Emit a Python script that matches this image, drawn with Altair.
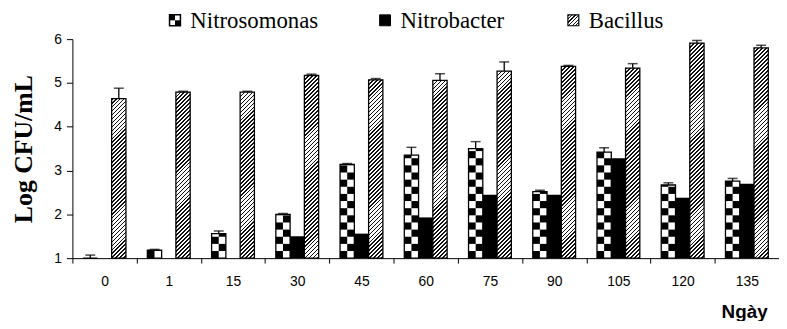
import altair as alt
import pandas as pd

# ---- data ----
days = ["0", "1", "15", "30", "45", "60", "75", "90", "105", "120", "135"]
series_names = ["Nitrosomonas", "Nitrobacter", "Bacillus"]
nitrosomonas = [1.00, 1.18, 1.56, 2.00, 3.14, 3.35, 3.50, 2.52, 3.42, 2.67, 2.76]
nitrosomonas_err = [0.07, 0.02, 0.06, 0.02, 0.02, 0.18, 0.16, 0.03, 0.10, 0.05, 0.06]
nitrobacter = [1.00, 1.00, 1.00, 1.50, 1.56, 1.93, 2.45, 2.45, 3.28, 2.38, 2.70]
bacillus = [4.64, 4.79, 4.79, 5.17, 5.07, 5.06, 5.27, 5.38, 5.34, 5.91, 5.80]
bacillus_err = [0.24, 0.02, 0.02, 0.03, 0.03, 0.15, 0.21, 0.02, 0.10, 0.06, 0.06]
y_ticks = [1, 2, 3, 4, 5, 6]

# ---- layout / style ----
W, H = 713, 221
Y_MIN, Y_MAX = 1, 6
PX = H / (Y_MAX - Y_MIN)
BAND = W / len(days)
BAR = BAND * 2 / 9
OFF = {"Nitrosomonas": -BAR, "Nitrobacter": 0.0, "Bacillus": BAR}
SERIF = "Liberation Serif"
SANS = "Liberation Sans"

# legend placement (pixels relative to the plot origin)
LEG_SYM_X = {"Nitrosomonas": 98, "Nitrobacter": 310, "Bacillus": 500}
LEG_SYM = 11
LEG_SYM_TOP = -24.5
LEG_TEXT_GAP = 10
LEG_BASELINE = -11.3

rows = []
for i, d in enumerate(days):
    for s, vals, errs in [
        ("Nitrosomonas", nitrosomonas, nitrosomonas_err),
        ("Nitrobacter", nitrobacter, [0.0] * len(days)),
        ("Bacillus", bacillus, bacillus_err),
    ]:
        rows.append(dict(day=d, series=s, value=vals[i], top=vals[i] + errs[i], base=Y_MIN))
df = pd.DataFrame(rows)

# checkerboard cells for Nitrosomonas (derived from the bar values)
CELL = (BAR / 2) / PX
cells = []
for d, v in zip(days, nitrosomonas):
    k = 0
    while Y_MIN + k * CELL < v - 1e-9:
        y0 = Y_MIN + k * CELL
        y1 = min(Y_MIN + (k + 1) * CELL, v)
        for col in (0, 1):
            if (k + col) % 2 == 0:
                cells.append(dict(day=d, col=col, y0=y0, y1=y1))
        k += 1
cells_df = pd.DataFrame(cells)

x_enc = alt.X(
    "day:N",
    sort=days,
    scale=alt.Scale(domain=days, paddingInner=0, paddingOuter=0),
    axis=alt.Axis(
        title="Ngày", labelAngle=0, tickBand="extent", tickSize=5, labelPadding=12,
        labelFont=SANS, labelFontSize=14, labelColor="black",
        domainColor="black", tickColor="black", domainWidth=1, tickWidth=1,
        titleFont=SANS, titleFontWeight="bold", titleFontSize=19,
        titleColor="black", titleAlign="right", titleX=701, titleY=60,
        titleBaseline="alphabetic",
    ),
)
y_axis = alt.Axis(
    title="Log CFU/mL", values=y_ticks, grid=False, tickSize=6, labelPadding=5,
    labelFont=SANS, labelFontSize=14, labelColor="black",
    domainColor="black", tickColor="black", domainWidth=1, tickWidth=1,
    titleFont=SERIF, titleFontSize=26, titleFontWeight="bold",
    titleColor="black", titleAngle=270, titleX=-41, titleY=H / 2,
    titleAlign="center", titleBaseline="alphabetic",
)
y_scale = alt.Scale(domain=[Y_MIN, Y_MAX], nice=False, zero=False)


def yv(field):
    return alt.Y(field, type="quantitative", scale=y_scale, axis=y_axis)


def hatch(h, w=BAR, period=4.0, dark=1.7):
    p = w * (w + h) / (w * w + h * h)
    q = h * (w + h) / (w * w + h * h)
    L = w + h
    stops = []
    s = 0.0
    while s < L:
        a = s / L
        b = min((s + dark) / L, 1.0)
        c = min((s + period) / L, 1.0)
        stops += [(a, "#111111"), (b, "#111111"), (b, "white"), (c, "white")]
        s += period
    return alt.LinearGradient(
        gradient="linear", x1=0, y1=0, x2=round(p, 5), y2=round(q, 5),
        stops=[alt.GradientStop(offset=round(o, 5), color=c) for o, c in stops],
    )


base = alt.Chart(df)
layers = []

# white base for checker bars, black Nitrobacter bars
layers.append(
    base.transform_filter(alt.datum.series == "Nitrosomonas")
    .mark_bar(width=BAR, xOffset=OFF["Nitrosomonas"], color="white", strokeWidth=0)
    .encode(x=x_enc, y=yv("value"), y2="base:Q")
)
layers.append(
    base.transform_filter(alt.datum.series == "Nitrobacter")
    .mark_bar(width=BAR, xOffset=OFF["Nitrobacter"], color="black", strokeWidth=0)
    .encode(x=x_enc, y=yv("value"), y2="base:Q")
)

# checkerboard
for col in (0, 1):
    layers.append(
        alt.Chart(cells_df)
        .transform_filter(alt.datum.col == col)
        .mark_bar(width=BAR / 2, xOffset=OFF["Nitrosomonas"] + (-BAR / 4 if col == 0 else BAR / 4),
                  color="black", strokeWidth=0)
        .encode(x=x_enc, y=yv("y0"), y2="y1:Q")
    )

# hatched Bacillus bars
for d, v in zip(days, bacillus):
    h = (v - Y_MIN) * PX
    layers.append(
        base.transform_filter((alt.datum.series == "Bacillus") & (alt.datum.day == d))
        .mark_bar(width=BAR, xOffset=OFF["Bacillus"], fill=hatch(h),
                  stroke="black", strokeWidth=1.3)
        .encode(x=x_enc, y=yv("value"), y2="base:Q")
    )

# outline of checker bars
layers.append(
    base.transform_filter(alt.datum.series == "Nitrosomonas")
    .mark_bar(width=BAR, xOffset=OFF["Nitrosomonas"], fill="white", fillOpacity=0,
              stroke="black", strokeWidth=1.3)
    .encode(x=x_enc, y=yv("value"), y2="base:Q")
)

# error bars
for s in ["Nitrosomonas", "Bacillus"]:
    sub = base.transform_filter(alt.datum.series == s)
    layers.append(
        sub.mark_rule(xOffset=OFF[s], color="black", strokeWidth=1.3)
        .encode(x=x_enc, y=yv("value"), y2="top:Q")
    )
    layers.append(
        sub.mark_tick(xOffset=OFF[s], color="black", size=10, thickness=1.5, orient="horizontal")
        .encode(x=x_enc, y=yv("top"))
    )

# ---- legend (drawn as marks, above the plot) ----
leg_df = pd.DataFrame({"series": series_names})
half = LEG_SYM / 2
for s in series_names:
    x0 = LEG_SYM_X[s]
    one = alt.Chart(leg_df).transform_filter(alt.datum.series == s)
    if s == "Nitrosomonas":
        layers.append(one.mark_rect(fill="white", stroke="black", strokeWidth=1.5).encode(
            x=alt.value(x0), x2=alt.value(x0 + LEG_SYM),
            y=alt.value(LEG_SYM_TOP), y2=alt.value(LEG_SYM_TOP + LEG_SYM)))
        for dx, dy in [(0, 0), (half, half)]:
            layers.append(one.mark_rect(fill="black").encode(
                x=alt.value(x0 + dx), x2=alt.value(x0 + dx + half),
                y=alt.value(LEG_SYM_TOP + dy), y2=alt.value(LEG_SYM_TOP + dy + half)))
    elif s == "Nitrobacter":
        layers.append(one.mark_rect(fill="black", stroke="black", strokeWidth=1).encode(
            x=alt.value(x0), x2=alt.value(x0 + LEG_SYM),
            y=alt.value(LEG_SYM_TOP), y2=alt.value(LEG_SYM_TOP + LEG_SYM)))
    else:
        layers.append(one.mark_rect(fill=hatch(LEG_SYM, w=LEG_SYM, period=3.6, dark=1.3),
                                    stroke="black", strokeWidth=1.2).encode(
            x=alt.value(x0), x2=alt.value(x0 + LEG_SYM),
            y=alt.value(LEG_SYM_TOP), y2=alt.value(LEG_SYM_TOP + LEG_SYM)))
    layers.append(one.mark_text(font=SERIF, fontSize=23, fontWeight="normal",
                                color="black", align="left", baseline="alphabetic").encode(
        x=alt.value(x0 + LEG_SYM + LEG_TEXT_GAP), y=alt.value(LEG_BASELINE),
        text="series:N"))

chart = (
    alt.layer(*layers)
    .properties(
        width=W, height=H,
        autosize=alt.AutoSizeParams(type="none"),
        padding={"left": 65, "top": 30, "right": 0, "bottom": 62},
        background="white",
    )
    .configure_view(stroke=None)
)

chart.save("out.html", embed_options={"renderer": "svg", "actions": False})
